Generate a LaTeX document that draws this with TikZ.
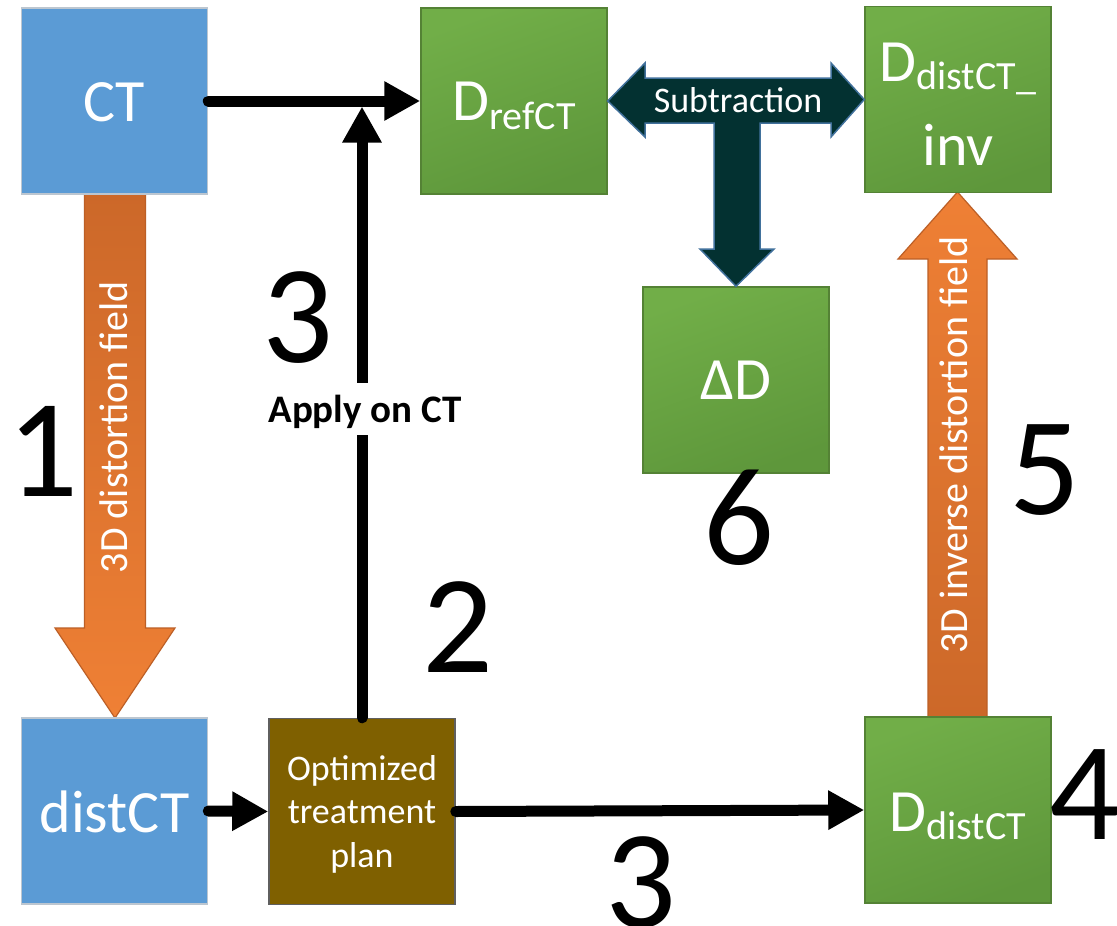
\documentclass[tikz,border=0pt]{standalone}
\usepackage{fontspec}
\setmainfont{Carlito}
\usetikzlibrary{arrows.meta,calc}

\definecolor{boxblue}{HTML}{5B9BD5}
\definecolor{boxblueline}{HTML}{BCC6D0}
\definecolor{greentop}{HTML}{71AE48}
\definecolor{greenbot}{HTML}{5E973B}
\definecolor{greenline}{HTML}{548235}
\definecolor{planbrown}{HTML}{7F6000}
\definecolor{planline}{HTML}{5F5F5F}
\definecolor{orangelight}{HTML}{EF8035}
\definecolor{orangedark}{HTML}{CC6829}
\definecolor{orangeline}{HTML}{BC5F26}
\definecolor{subteal}{HTML}{033131}
\definecolor{subline}{HTML}{41719C}

% lowered, smaller index text after a large letter
\newcommand{\lowidx}[2]{\raisebox{-#1pt}{\fontsize{40}{40}\selectfont #2}}

\tikzset{
  box/.style={minimum width=186pt, minimum height=186pt, inner sep=0pt,
    text=white, font=\fontsize{60}{72}\selectfont, line width=1.5pt},
  bluebox/.style={box, fill=boxblue, draw=boxblueline},
  greenbox/.style={box, top color=greentop, bottom color=greenbot,
    shading angle=20, draw=greenline},
  planbox/.style={box, fill=planbrown, draw=planline, align=center,
    font=\fontsize{36}{43.5}\selectfont},
  flow/.style={line width=11pt, line cap=round,
    -{Triangle[length=36pt,width=37pt]}},
  orangedown/.style={top color=orangedark, bottom color=orangelight,
    draw=orangeline, line width=1.2pt},
  orangeup/.style={top color=orangelight, bottom color=orangedark,
    draw=orangeline, line width=1.2pt},
  arrowtext/.style={text=white, font=\fontsize{40}{40}\selectfont,
    inner sep=0pt, rotate=90},
  digit/.style={font=\fontsize{140}{140}\selectfont, inner sep=0pt},
  subblock/.style={fill=subteal, draw=subline, line width=1.5pt,
    line join=miter},
}

\begin{document}
\begin{tikzpicture}[x=1pt,y=-1pt]
  \path[use as bounding box, fill=white] (0,0) rectangle (1117,926);

  % wide orange block arrows (drawn first, boxes sit on their ends)
  \draw[orangedown] (84.5,193) -- (145.5,193) -- (145.5,628) -- (175,628)
    -- (115,718) -- (55,628) -- (84.5,628) -- cycle;
  \draw[orangeup] (928,717) -- (987,717) -- (987,259) -- (1017,259)
    -- (957.5,192) -- (898,259) -- (928,259) -- cycle;
  \node[arrowtext] (field1) at (114,427) {3D distortion field};
  \node[arrowtext] (field5) at (954,445) {3D inverse distortion field};

  % boxes
  \node[bluebox, text height=40pt, text depth=0pt] (ct) at (114.5,101) {CT};
  \node[bluebox, text height=42pt, text depth=0pt] (dct) at (114.5,811) {distCT};
  \node[planbox, text height=111pt, text depth=0pt] (plan) at (362,811.5)
    {Optimized\\treatment\\plan};
  \node[greenbox, text height=38pt, text depth=0pt] (ref) at (514,101)
    {D\lowidx{9}{refCT}};
  \node[greenbox, align=center, font=\fontsize{60}{84}\selectfont,
    text height=131pt, text depth=0pt] (inv) at (958,99.5)
    {D\lowidx{8}{distCT\_}\\inv};
  \node[greenbox, text height=38pt, text depth=0pt] (dd) at (736,380) {ΔD};
  \node[greenbox, text height=42pt, text depth=0pt] (dist) at (958,810)
    {D\lowidx{8}{distCT}};

  % T-shaped subtraction arrow between the dose boxes
  \draw[subblock] (ref.east) -- (645,63) -- (645,78) -- (831,78) -- (831,63)
    -- (inv.west) -- (831,137) -- (831,123) -- (760,123) -- (760,249)
    -- (774,249) -- (dd.north) -- (700,249) -- (714,249) -- (714,123)
    -- (645,123) -- (645,137) -- cycle;
  \node[text=white, font=\fontsize{36}{36}\selectfont, inner sep=0pt,
    anchor=base] (subt) at (738,112) {Subtraction};

  % connectors
  \draw[flow] (ct.east) -- (ref.west);
  \draw[flow, shorten >=5.5pt] (plan.north) -- (plan.north |- ct.east);
  \draw[flow] (dct.east) -- (plan.west);
  \draw[flow] (plan.east) -- (dist.west);
  \node[fill=white, font=\fontsize{39}{39}\selectfont\bfseries,
    inner xsep=2pt, inner ysep=0pt, text height=39pt, text depth=13pt,
    anchor=base] (apply) at (365,422) {Apply on CT};

  % step numbers
  \node[digit] (n1) at (42.5,451.5) {1};
  \node[digit] (n3a) at (298,318) {3};
  \node[digit] (n2) at (458,627) {2};
  \node[digit] (n6) at (739,518) {6};
  \node[digit] (n5) at (1045,470) {5};
  \node[digit] (n4) at (1085,795) {4};
  \node[digit] (n3b) at (641,883) {3};
\end{tikzpicture}
\end{document}
